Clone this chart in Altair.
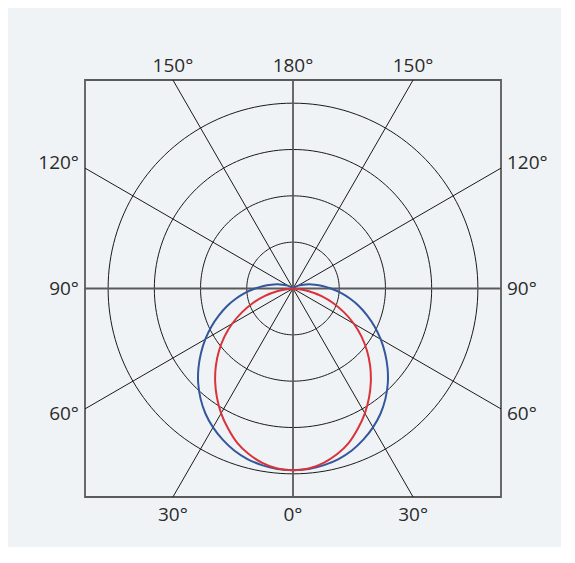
import altair as alt
import numpy as np
import pandas as pd

# Polar angles (degrees from nadir) and relative intensities (outer ring = 400)
angles = [0, 5, 10, 15, 20, 25, 30, 35, 40, 45, 50, 55, 60, 65, 70, 75, 80, 85, 90,
          95, 100, 105, 110, 115, 120, 125, 130, 135, 140, 150, 160, 170, 180]
blue_vals = [392, 391, 387, 381, 372, 360, 346, 330, 311, 290, 267, 243, 219, 195, 171, 148, 125, 103, 82,
             64, 48, 35, 24, 16, 10, 6, 3, 1, 0, 0, 0, 0, 0]
red_vals = [392, 390, 382, 370, 354, 333, 311, 287, 262, 236, 209, 181, 152, 122, 93, 64, 35, 11, 0,
            0, 0, 0, 0, 0, 0, 0, 0, 0, 0, 0, 0, 0, 0]
series_names = ["C0-C180", "C90-C270"]
series_colors = ["#34569b", "#d9323a"]

ring_values = [100, 200, 300, 400]
spoke_angles = [30, 60, 120, 150, 210, 240, 300, 330]
main_spokes = [0, 90, 180, 270]
label_angles = [-30, 0, 30, -60, -90, -120, 60, 90, 120, -150, 180, 150]
label_sides = ["bottom", "bottom", "bottom", "left", "left", "left",
               "right", "right", "right", "top", "top", "top"]

LIM = 450

# curve table (mirrored for both halves)
rows = []
for name, vals in zip(series_names, [blue_vals, red_vals]):
    seq = [(-a, v) for a, v in reversed(list(zip(angles, vals)))] + list(zip(angles, vals))[1:]
    for i, (a, v) in enumerate(seq):
        rows.append({"series": name, "angle": a, "r": v, "ord": i})
curves = pd.DataFrame(rows)

# ring grid
ring_rows = []
for rv in ring_values:
    for a in range(0, 361, 2):
        ring_rows.append({"ring": rv, "angle": a, "r": rv})
rings = pd.DataFrame(ring_rows)

spokes = pd.DataFrame({"angle": spoke_angles})
mains = pd.DataFrame({"angle": main_spokes})
labels = pd.DataFrame({"angle": label_angles, "side": label_sides,
                       "text": [f"{abs(a)}°" for a in label_angles]})

xs = alt.Scale(domain=[-LIM, LIM], nice=False, zero=False)
ys = alt.Scale(domain=[-LIM, LIM], nice=False, zero=False)

polar = dict(px="datum.r * sin(datum.angle * PI / 180)",
             py="-datum.r * cos(datum.angle * PI / 180)")

ring_layer = alt.Chart(rings).transform_calculate(**polar).mark_line(
    color="#1a1a1a", strokeWidth=1, clip=True
).encode(
    x=alt.X("px:Q", scale=xs, axis=None),
    y=alt.Y("py:Q", scale=ys, axis=None),
    detail="ring:N",
    order="angle:Q",
)

spoke_calc = dict(
    x0="0", y0="0",
    x1="1000 * sin(datum.angle * PI / 180)",
    y1="-1000 * cos(datum.angle * PI / 180)",
)

spoke_layer = alt.Chart(spokes).transform_calculate(**spoke_calc).mark_rule(
    color="#1a1a1a", strokeWidth=1, clip=True
).encode(
    x=alt.X("x0:Q", scale=xs, axis=None), y=alt.Y("y0:Q", scale=ys, axis=None),
    x2="x1:Q", y2="y1:Q",
)

main_layer = alt.Chart(mains).transform_calculate(**spoke_calc).mark_rule(
    color="#5a5a5a", strokeWidth=1.8, clip=True
).encode(
    x=alt.X("x0:Q", scale=xs, axis=None), y=alt.Y("y0:Q", scale=ys, axis=None),
    x2="x1:Q", y2="y1:Q",
)

curve_layer = alt.Chart(curves).transform_calculate(**polar).mark_line(
    strokeWidth=2, clip=True, interpolate="catmull-rom"
).encode(
    x=alt.X("px:Q", scale=xs, axis=None),
    y=alt.Y("py:Q", scale=ys, axis=None),
    color=alt.Color("series:N", scale=alt.Scale(domain=series_names, range=series_colors), legend=None),
    order="ord:Q",
)

lab_base = alt.Chart(labels).transform_calculate(
    rb=f"{LIM} / max(abs(sin(datum.angle * PI / 180)), abs(cos(datum.angle * PI / 180)))"
).transform_calculate(
    lx="datum.rb * sin(datum.angle * PI / 180)",
    ly="-datum.rb * cos(datum.angle * PI / 180) - (datum.side == 'left' || datum.side == 'right' ? 24 * cos(datum.angle * PI / 180) : 0)",
)

font = dict(font="Open Sans", fontSize=19, color="#2b2b2b")

def lab(side, **kw):
    return lab_base.transform_filter(alt.datum.side == side).mark_text(**font, **kw).encode(
        x=alt.X("lx:Q", scale=xs, axis=None),
        y=alt.Y("ly:Q", scale=ys, axis=None),
        text="text:N",
    )

label_layers = [
    lab("bottom", align="center", baseline="middle", dy=18),
    lab("top", align="center", baseline="middle", dy=-14),
    lab("left", align="right", baseline="middle", dx=-6),
    lab("right", align="left", baseline="middle", dx=6),
]

chart = alt.layer(ring_layer, spoke_layer, main_layer, curve_layer, *label_layers).properties(
    width=416, height=417,
    padding={"left": 77, "top": 72, "right": 60, "bottom": 50},
    autosize="none",
    background="#f0f3f5",
).configure_view(stroke="#5a5a5a", strokeWidth=1.8, fill="#f0f3f5")

chart.save("out.html", embed_options={"renderer": "svg", "actions": False})
